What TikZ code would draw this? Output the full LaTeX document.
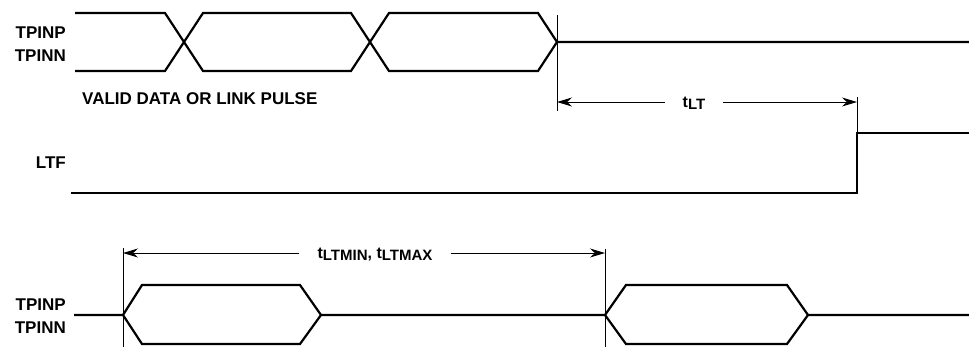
\documentclass[tikz,border=0pt]{standalone}
\usepackage{fontspec}
\setmainfont{Liberation Sans}
\usepackage{tikz}
\usetikzlibrary{arrows.meta, positioning, calc}
\tikzstyle{sig} = [line width=2.2pt, line join=miter]
\tikzstyle{marker} = [line width=0.9pt]
\tikzstyle{dim} = [line width=0.9pt, -{Stealth[length=15pt, width=9pt]}]
\tikzstyle{lbl} = [inner sep=0pt, font=\fontsize{17}{20}\selectfont\bfseries]
\tikzstyle{tlbl} = [inner xsep=18pt, inner ysep=0pt, font=\fontsize{16}{19}\selectfont\bfseries]
\newcommand{\tsub}[1]{t\raisebox{-2pt}{\fontsize{15}{18}\selectfont #1}}

\begin{document}
\begin{tikzpicture}[x=1pt, y=-1pt]
    \useasboundingbox (0,0) rectangle (969,349);

    % signal names
    \node[lbl, anchor=base east] (inpA) at (66,38) {TPINP};
    \node[lbl, anchor=base east] (innA) at (66,61) {TPINN};
    \node[lbl, anchor=base west] (valid) at (82,104) {VALID DATA OR LINK PULSE};
    \node[lbl, anchor=base east] (ltf) at (66,168) {LTF};
    \node[lbl, anchor=base east] (inpB) at (66,310) {TPINP};
    \node[lbl, anchor=base east] (innB) at (66,333) {TPINN};

    % receive data
    \draw[sig] (75,13) -- (165,13) -- (203,71) -- (351,71) -- (389,13) -- (538,13) -- (557,42) -- (969,42);
    \draw[sig] (75,71) -- (165,71) -- (203,13) -- (351,13) -- (389,71) -- (538,71) -- (557,42);

    % link test fail
    \draw[sig] (71,193) -- (857,193) -- (857,133) -- (969,133);

    % link pulses
    \draw[sig] (74,315) -- (123,315) -- (142,285) -- (300,285) -- (321,315) -- (605,315) -- (626,285) -- (787,285) -- (808,315) -- (969,315);
    \draw[sig] (123,315) -- (142,344) -- (300,344) -- (321,315);
    \draw[sig] (605,315) -- (626,344) -- (787,344) -- (808,315);

    % timing markers
    \coordinate (lastdata) at (557,102);
    \coordinate (fail) at (857,102);
    \coordinate (pulseA) at (123,253);
    \coordinate (pulseB) at (605,253);
    \draw[marker] (557,15) -- (557,111);
    \draw[marker] (857,97) -- (857,133);
    \draw[marker] (123,248) -- (123,347);
    \draw[marker] (605,249) -- (605,347);

    \node[tlbl, anchor=base] (tlt) at (694,107) {\tsub{LT}};
    \node[tlbl, anchor=base] (tltm) at (375,258) {\tsub{LTMIN}, \tsub{LTMAX}};
    \draw[dim] (tlt.west |- lastdata) -- (lastdata);
    \draw[dim] (tlt.east |- fail) -- (fail);
    \draw[dim] (tltm.west |- pulseA) -- (pulseA);
    \draw[dim] (tltm.east |- pulseB) -- (pulseB);
\end{tikzpicture}
\end{document}
